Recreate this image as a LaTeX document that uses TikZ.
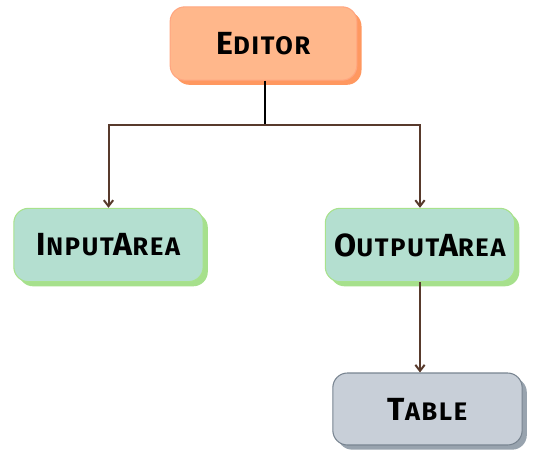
\documentclass[tikz,border=0pt]{standalone}
\usepackage{fontspec}
\setmainfont{Fira Sans}[LetterSpace=7]
\usetikzlibrary{shadows,arrows.meta}
\newcommand\capname[2]{{\fontsize{24}{24}\selectfont #1}{\fontsize{19}{19}\selectfont #2}}
\tikzset{
  box/.style={rounded corners=11pt,minimum width=140pt,minimum height=55pt,line width=0.8pt,font=\bfseries},
  editorbox/.style={box,draw=orange!60!red!50,fill={rgb,255:red,255;green,183;blue,139},
    drop shadow={shadow xshift=3.5pt,shadow yshift=-3.5pt,fill={rgb,255:red,255;green,152;blue,96},opacity=1}},
  areabox/.style={box,minimum width=142pt,draw={rgb,255:red,168;green,226;blue,140},fill={rgb,255:red,180;green,223;blue,208},
    drop shadow={shadow xshift=3.5pt,shadow yshift=-3.5pt,fill={rgb,255:red,166;green,224;blue,140},opacity=1}},
  tablebox/.style={box,minimum width=142pt,minimum height=54pt,draw={rgb,255:red,120;green,132;blue,144},fill={rgb,255:red,200;green,207;blue,216},
    drop shadow={shadow xshift=3.5pt,shadow yshift=-3.5pt,fill={rgb,255:red,152;green,163;blue,174},opacity=1}},
  link/.style={line width=1.5pt,draw={rgb,255:red,88;green,58;blue,44}},
  arr/.style={link,-{Straight Barb[length=4.5pt,width=7pt,line width=1.5pt]}}
}
\begin{document}
\begin{tikzpicture}[x=0.75pt,y=-0.75pt]
\useasboundingbox (0,0) rectangle (537,464);
\node[editorbox] (editor) at (263.5,43.5) {\capname{E}{DITOR}};
\node[areabox] (input) at (108.5,245) {\capname{I}{NPUT}\capname{A}{REA}};
\node[areabox] (output) at (420,245) {\capname{O}{UTPUT}\capname{A}{REA}};
\node[tablebox] (table) at (427.5,409) {\capname{T}{ABLE}};
\coordinate (split) at (265,125);
\draw[link,draw=black] (editor.south -| split) -- (split);
\draw[arr] (split) -| (input.north);
\draw[arr] (split) -| (output.north);
\draw[arr] (output.south) -- (output.south |- table.north);
\end{tikzpicture}
\end{document}
